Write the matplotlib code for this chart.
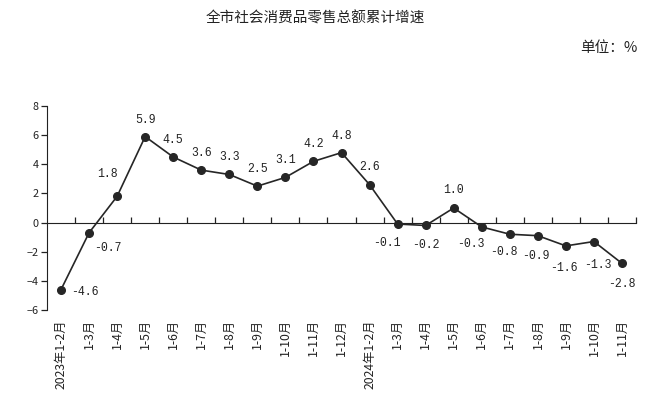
import matplotlib
matplotlib.use("Agg")
import matplotlib.pyplot as plt
from matplotlib.ticker import FixedLocator, NullFormatter

plt.rcParams['font.family'] = ['Noto Sans CJK SC', 'DejaVu Sans']

# 全市社会消费品零售总额累计增速 (%)
months = ["2023年1-2月", "1-3月", "1-4月", "1-5月", "1-6月", "1-7月", "1-8月",
          "1-9月", "1-10月", "1-11月", "1-12月",
          "2024年1-2月", "1-3月", "1-4月", "1-5月", "1-6月", "1-7月", "1-8月",
          "1-9月", "1-10月", "1-11月"]
growth = [-4.6, -0.7, 1.8, 5.9, 4.5, 3.6, 3.3, 2.5, 3.1, 4.2, 4.8,
          2.6, -0.1, -0.2, 1.0, -0.3, -0.8, -0.9, -1.6, -1.3, -2.8]
y_ticks = [-6, -4, -2, 0, 2, 4, 6, 8]

# label offsets in pixels (dx, dy)
label_offsets = [(24, -2), (19, -15), (-10, 22), (0, 17), (0, 17), (0, 17), (0, 17),
                 (0, 17), (0, 17), (0, 17), (0, 17),
                 (0, 18), (-11, -19), (0, -20), (0, 18), (-11, -17), (-6, -18),
                 (-2, -20), (-2, -22), (4, -23), (0, -21)]

fig = plt.figure(figsize=(6.6, 4.07), dpi=100)
ax = fig.add_axes([47 / 660, 97 / 407, 589 / 660, 204 / 407])

x = list(range(len(growth)))
ax.plot(x, growth, color="#262626", lw=1.2, marker="o", ms=5.5, zorder=3)

for xi, v, (dx, dy) in zip(x, growth, label_offsets):
    ax.annotate(f"{v:.1f}", (xi, v), xytext=(dx, dy), textcoords="offset pixels",
                ha="center", va="center", fontsize=8.3, color="#222222",
                family="Liberation Mono")

ax.set_xlim(-0.5, len(growth) - 0.5)
ax.set_ylim(-6, 8)
ax.set_yticks(y_ticks)
ax.tick_params(axis="y", direction="out", length=4, width=0.9, labelsize=7.8,
               pad=2, colors="#222222")

# category axis sits on the zero line
ax.spines["top"].set_visible(False)
ax.spines["right"].set_visible(False)
ax.spines["bottom"].set_position(("data", 0))
ax.spines["left"].set_color("#222222")
ax.spines["bottom"].set_color("#222222")
ax.xaxis.set_major_locator(FixedLocator([i + 0.5 for i in range(len(growth))]))
ax.xaxis.set_major_formatter(NullFormatter())
ax.tick_params(axis="x", direction="in", length=4, width=0.9, colors="#222222")

for xi, m in zip(x, months):
    ax.text(xi, -0.045, m, transform=ax.get_xaxis_transform(), rotation=90,
            ha="center", va="top", fontsize=8.8, color="#222222")

fig.text(0.477, 0.955, "全市社会消费品零售总额累计增速", ha="center", va="center",
         fontsize=10.5, color="#222222")
fig.text(0.966, 0.882, "单位：%", ha="right", va="center", fontsize=10.5,
         color="#222222")

fig.savefig("out.png", dpi=100)
